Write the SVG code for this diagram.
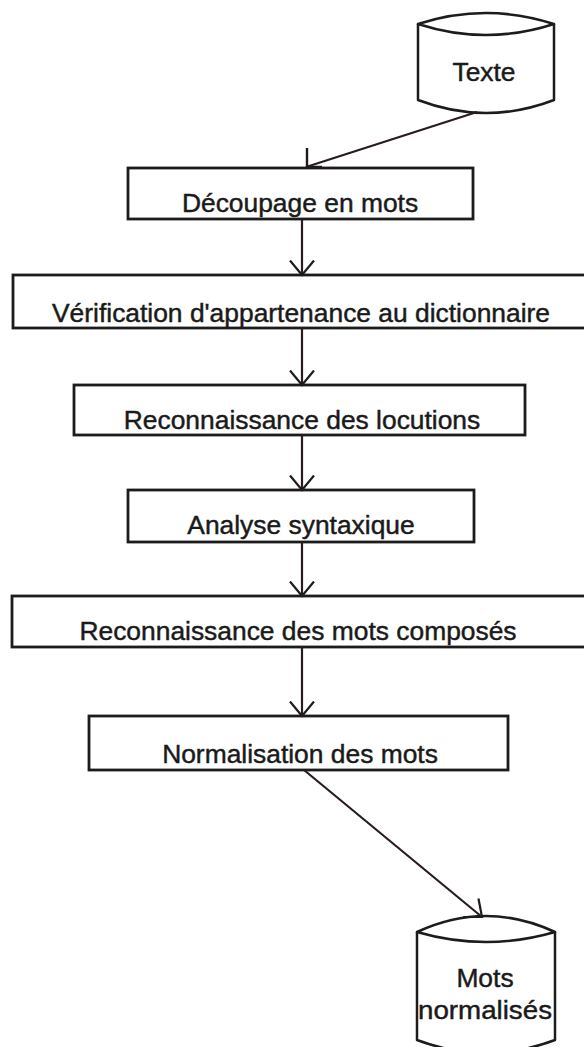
<svg xmlns="http://www.w3.org/2000/svg" width="584" height="1047" viewBox="0 0 584 1047">
  <style>
    .box { fill: #ffffff; stroke: #1c1c1c; stroke-width: 2.8; }
    .db { fill: #ffffff; stroke: #1c1c1c; stroke-width: 2.5; stroke-linejoin: round; }
    .lbl { font-family: "Liberation Sans", Arial, Helvetica, sans-serif; font-size: 26.4px; fill: #1a1a1a; stroke: #1a1a1a; stroke-width: 0.45; text-anchor: middle; }
    .edge { fill: none; stroke: #2a1c1e; stroke-width: 2.2; }
    .tip { fill: none; stroke: #1c1c1c; stroke-width: 2.4; stroke-linejoin: round; }
  </style>
  <defs>
    <marker id="vee" markerUnits="userSpaceOnUse" viewBox="0 0 17 26" refX="15.5" refY="13" markerWidth="17" markerHeight="26" orient="auto">
      <path d="M1,1 L15.5,13 L1,25" fill="none" stroke="#1c1c1c" stroke-width="2.2"/>
    </marker>
  </defs>
  <rect x="0" y="0" width="584" height="1047" fill="#ffffff"/>

  <!-- data store: source text -->
  <g id="texte">
    <path class="db" d="M418,24 L418,100 Q486,126 554,100 L554,24"/>
    <path class="db" d="M418,24 Q486,2 554,24 Q486,46 418,24 Z"/>
    <text class="lbl" x="484" y="81">Texte</text>
  </g>

  <g id="decoupage">
    <rect class="box" x="128" y="168" width="345" height="51"/>
    <text class="lbl" x="300" y="212">Découpage en mots</text>
  </g>

  <g id="verification">
    <rect class="box" x="13" y="275" width="600" height="53"/>
    <text class="lbl" x="301" y="322">Vérification d'appartenance au dictionnaire</text>
  </g>

  <g id="locutions">
    <rect class="box" x="74" y="385" width="451" height="50"/>
    <text class="lbl" x="302" y="429">Reconnaissance des locutions</text>
  </g>

  <g id="syntaxe">
    <rect class="box" x="128" y="490" width="346" height="52"/>
    <text class="lbl" x="301" y="534">Analyse syntaxique</text>
  </g>

  <g id="composes">
    <rect class="box" x="12" y="596" width="600" height="51"/>
    <text class="lbl" x="298" y="640">Reconnaissance des mots composés</text>
  </g>

  <g id="normalisation">
    <rect class="box" x="89" y="716" width="419" height="54"/>
    <text class="lbl" x="300" y="763">Normalisation des mots</text>
  </g>

  <!-- data store: normalised words -->
  <g id="mots-normalises">
    <path class="db" d="M417,932 L417,1040 Q486,1066 555,1040 L555,932"/>
    <path class="db" d="M417,932 Q486,900 555,932 Q486,952 417,932 Z"/>
    <text class="lbl" x="485" y="987">Mots</text>
    <text class="lbl" x="485" y="1019" textLength="134" lengthAdjust="spacingAndGlyphs">normalisés</text>
  </g>

  <g id="connectors">
    <!-- Texte -> Découpage -->
    <path class="edge" d="M477,112 L306,167"/>
    <path class="tip" d="M307,148 L307,167 L322,167"/>
    <!-- pipeline steps -->
    <path class="edge" d="M302,219 L302,275" marker-end="url(#vee)"/>
    <path class="edge" d="M302,328 L302,385" marker-end="url(#vee)"/>
    <path class="edge" d="M302,435 L302,490" marker-end="url(#vee)"/>
    <path class="edge" d="M302,542 L302,596" marker-end="url(#vee)"/>
    <path class="edge" d="M302,647 L302,716" marker-end="url(#vee)"/>
    <!-- Normalisation -> Mots normalisés -->
    <path class="edge" d="M304,770 L482,917" marker-end="url(#vee)"/>
  </g>
</svg>
